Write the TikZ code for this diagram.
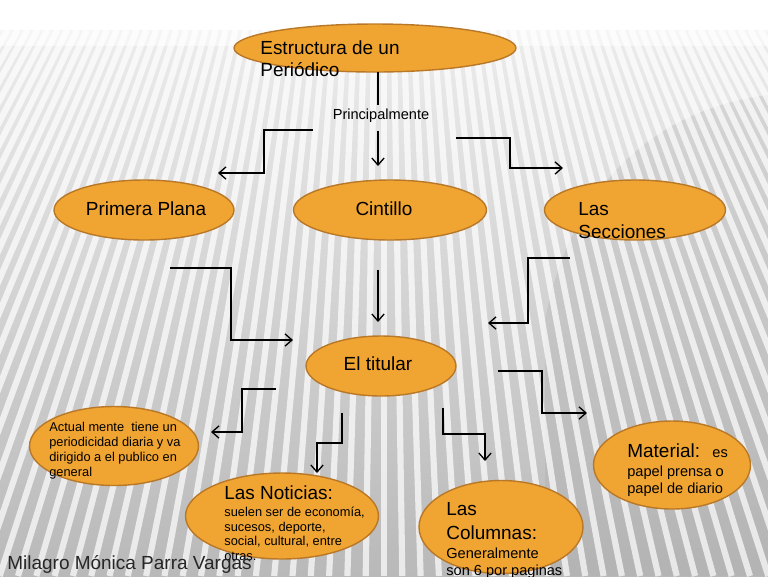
\documentclass[tikz,border=0pt]{standalone}
\usepackage{fontspec}
\setmainfont{Liberation Sans}
\usetikzlibrary{arrows.meta,shapes.geometric}
\definecolor{naranja}{RGB}{240,165,50}
\definecolor{borde}{RGB}{185,120,40}

\tikzset{
  burbuja/.style={ellipse, draw=borde, fill=naranja, line width=0.8pt, inner sep=0pt},
  flecha/.style={-{Straight Barb[length=4pt,width=7pt]}, line width=0.75pt},
  linea/.style={line width=0.75pt},
  grande/.style={font=\fontsize{10.8}{13}\selectfont, inner sep=0pt},
  medio/.style={font=\fontsize{8.3}{9.6}\selectfont, inner sep=0pt},
  chico/.style={font=\fontsize{7.3}{8.4}\selectfont, inner sep=0pt},
}

\begin{document}
\begin{tikzpicture}[x=0.02cm,y=-0.02cm]
\useasboundingbox (0,0) rectangle (768,576);
% fondo
\fill[white] (0,0) rectangle (768,576);
\begin{scope}
  \clip (0,30) rectangle (768,576);
  \shade[top color=gray!15, bottom color=gray!55] (0,30) rectangle (768,576);
  \fill[gray!70, opacity=.25] (768,95) .. controls (650,110) and (570,190) .. (545,320) -- (545,576) -- (768,576) -- cycle;
  \foreach \i in {-44,...,44}
    \draw[white, line width=3.5pt, opacity=.7] ({384+\i*9.9},30) -- ({384+\i*18.3},576);
  \shade[top color=white, bottom color=white, middle color=white, opacity=.5] (0,30) rectangle (768,45);
\end{scope}

% burbujas
\node[burbuja, minimum width=5.64cm, minimum height=0.96cm] (estructura) at (375,48) {};
\node[burbuja, minimum width=3.6cm, minimum height=1.2cm] (primera) at (144,210) {};
\node[burbuja, minimum width=3.86cm, minimum height=1.2cm] (cintillo) at (390,210) {};
\node[burbuja, minimum width=3.62cm, minimum height=1.2cm] (secciones) at (635,210) {};
\node[burbuja, minimum width=3.0cm, minimum height=1.2cm] (titular) at (381,366) {};
\node[burbuja, minimum width=3.38cm, minimum height=1.58cm] (actual) at (114,446) {};
\node[burbuja, minimum width=3.86cm, minimum height=1.72cm] (noticias) at (282,516) {};
\node[burbuja, minimum width=3.28cm, minimum height=1.86cm] (columnas) at (501,527) {};
\node[burbuja, minimum width=3.14cm, minimum height=1.76cm] (material) at (672,465) {};

% textos
\node[grande, anchor=north west, align=left] (estructuraTxt) at (260,40) {Estructura de un\\Periódico};
\node[medio] (principal) at (381,116) {Principalmente};
\node[grande] (primeraTxt) at (146,209) {Primera Plana};
\node[grande] (cintilloTxt) at (384,209) {Cintillo};
\node[grande, anchor=north west, align=left] (seccionesTxt) at (578,202) {Las\\Secciones};
\node[grande] (titularTxt) at (378,364) {El titular};
\node[chico, anchor=north west, align=left, font=\fontsize{7.3}{8.5}\selectfont] (actualTxt) at (49,422)
  {Actual mente~ tiene un\\periodicidad diaria y va\\dirigido a el publico en\\general};
\node[grande, anchor=north west] (noticiasTit) at (224,485) {Las Noticias:};
\node[chico, anchor=north west, align=left, font=\fontsize{7.3}{8.2}\selectfont] (noticiasTxt) at (224,507)
  {suelen ser de economía,\\sucesos, deporte,\\social, cultural, entre\\otras.};
\node[grande, anchor=north west, align=left, font=\fontsize{10.8}{13.6}\selectfont] (columnasTit) at (446,502) {Las\\Columnas:};
\node[medio, anchor=north west, align=left] (columnasTxt) at (446,548) {Generalmente\\son 6 por paginas};
\node[grande, anchor=north west] (materialTit) at (627,443) {Material:~ {\fontsize{8.3}{10}\selectfont es}};
\node[medio, anchor=north west, align=left] (materialTxt) at (627,466) {papel prensa o\\papel de diario};
\node[grande, anchor=base west, text=black!85] (autora) at (7,569) {Milagro Mónica Parra Vargas};

% conectores
\coordinate (estBajo) at (378,72);
\coordinate (prinArriba) at (378,105);
\draw[linea] (estBajo) -- (prinArriba);

\coordinate (izqA) at (313,130);   \coordinate (izqB) at (218,173);
\coordinate (cenA) at (378,131);   \coordinate (cenB) at (378,166);
\coordinate (derA) at (456,138);   \coordinate (derB) at (563,168);
\draw[flecha] (izqA) -- ++(-49,0) |- (izqB);
\draw[flecha] (cenA) -- (cenB);
\draw[flecha] (derA) -- ++(54,0) |- (derB);

\coordinate (priA) at (170,268);   \coordinate (priB) at (293,340);
\coordinate (cinA) at (378,270);   \coordinate (cinB) at (378,322);
\coordinate (secA) at (570,258);   \coordinate (secB) at (488,323);
\draw[flecha] (priA) -- ++(61,0) |- (priB);
\draw[flecha] (cinA) -- (cinB);
\draw[flecha] (secA) -- ++(-42,0) |- (secB);

\coordinate (actA) at (276,389);   \coordinate (actB) at (211,432);
\coordinate (notA) at (342,413);   \coordinate (notB) at (317,473);
\coordinate (colA) at (443,408);   \coordinate (colB) at (485,461);
\coordinate (matA) at (498,371);   \coordinate (matB) at (587,413);
\draw[flecha] (actA) -- ++(-34,0) |- (actB);
\draw[flecha] (notA) -- ++(0,30) -| (notB);
\draw[flecha] (colA) -- ++(0,26) -| (colB);
\draw[flecha] (matA) -- ++(44,0) |- (matB);
\end{tikzpicture}
\end{document}
